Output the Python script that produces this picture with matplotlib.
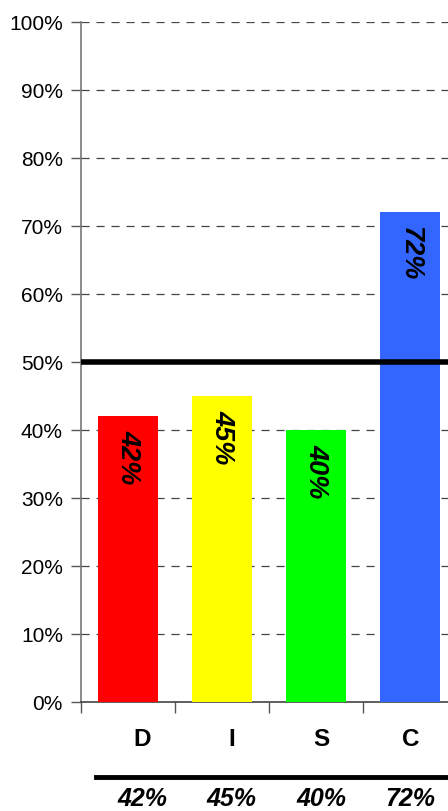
import matplotlib
matplotlib.use("Agg")
import matplotlib.pyplot as plt
from matplotlib.ticker import FuncFormatter, MultipleLocator

categories = ["D", "I", "S", "C"]
values = [42, 45, 40, 72]
bar_colors = ["#ff0000", "#ffff00", "#00ff00", "#3366ff"]
threshold = 50

plt.rcParams['font.family'] = ['Liberation Sans', 'DejaVu Sans']

W, H = 448, 811
fig = plt.figure(figsize=(W / 100, H / 100), dpi=100)
ax_left, ax_right = 81, 457
ax_bottom, ax_top = 702, 22
ax = fig.add_axes([ax_left / W, 1 - ax_bottom / H, (ax_right - ax_left) / W, (ax_bottom - ax_top) / H])

x = list(range(len(categories)))
ax.bar(x, values, width=0.63, color=bar_colors, zorder=3)
ax.set_xlim(-0.5, len(categories) - 0.5)
ax.set_ylim(0, 100)

ax.yaxis.set_major_locator(MultipleLocator(10))
ax.yaxis.set_major_formatter(FuncFormatter(lambda v, p: f"{int(v)}%"))
ax.tick_params(axis='y', labelsize=15, length=7, width=1, color='#555555', pad=6)
ax.grid(axis='y', linestyle=(0, (6.5, 5.5)), color='#444444', linewidth=0.9, zorder=1)

ax.set_xticks([i - 0.5 for i in x])
ax.set_xticklabels([])
ax.tick_params(axis='x', length=8, width=1, color='#555555', direction='out')

for s in ['top', 'right']:
    ax.spines[s].set_visible(False)
ax.spines['left'].set_color('#777777')
ax.spines['bottom'].set_color('#444444')
ax.spines['left'].set_linewidth(1.2)
ax.spines['bottom'].set_linewidth(1.2)

ax.axhline(threshold, color='black', linewidth=4, zorder=4)

for xi, v in zip(x, values):
    ax.annotate(f"{v}%", xy=(xi, v), xytext=(0, -10), textcoords='offset points',
                rotation=-90, ha='center', va='top', fontsize=19.5,
                fontweight='bold', fontstyle='italic', zorder=5)

# category labels and summary row below the chart
label_x0, label_dx = 142, 89.5
for i, (c, v) in enumerate(zip(categories, values)):
    px = label_x0 + i * label_dx
    fig.text(px / W, 1 - 739 / H, c, ha='center', va='center', fontsize=17.5, fontweight='bold')
    fig.text(px / W, 1 - 799 / H, f"{v}%", ha='center', va='center', fontsize=18,
             fontweight='bold', fontstyle='italic')

fig.add_artist(plt.Line2D([96 / W, 1.0], [1 - 777 / H, 1 - 777 / H], color='black',
                          linewidth=3.5, transform=fig.transFigure))

fig.savefig("out.png", dpi=100)
